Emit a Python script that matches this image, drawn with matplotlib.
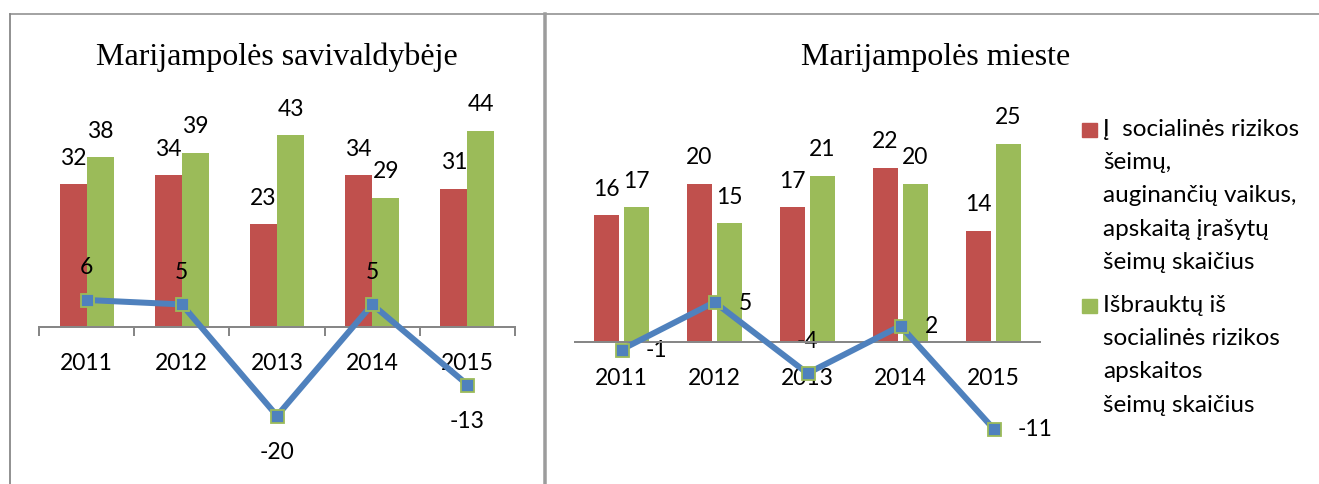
import matplotlib
matplotlib.use("Agg")

import matplotlib.pyplot as plt
import numpy as np
from matplotlib.lines import Line2D
from matplotlib.patches import Rectangle


years = ["2011", "2012", "2013", "2014", "2015"]

# Marijampolės savivaldybė
sav_irasyta = [32, 34, 23, 34, 31]
sav_isbraukta = [38, 39, 43, 29, 44]
sav_skirtumas = [6, 5, -20, 5, -13]

# Marijampolės miestas
miesto_irasyta = [16, 20, 17, 22, 14]
miesto_isbraukta = [17, 15, 21, 20, 25]
miesto_skirtumas = [-1, 5, -4, 2, -11]

titles = ["Marijampolės savivaldybėje", "Marijampolės mieste"]
legend_labels = [
    "Į  socialinės rizikos\nšeimų,\nauginančių vaikus,\napskaitą įrašytų\nšeimų skaičius",
    "Išbrauktų iš\nsocialinės rizikos\napskaitos\nšeimų skaičius",
]

RED = "#C0504D"
GREEN = "#9BBB59"
BLUE = "#4F81BD"
GREY = "#878787"
FONT = "Lato"
SERIF = "Liberation Serif"
FS = 16.5

W, H = 1319, 485
PX = 72 / 100  # points per pixel at dpi 100


def fx(px):
    return px / W


def fy(px):
    return 1 - px / H


def line_labels(ax, values, positions):
    offsets = {
        "above": ((0, 33 * PX), "center"),
        "below": ((0, -36 * PX), "center"),
        "right": ((24 * PX, 0), "left"),
    }
    for i, (v, pos) in enumerate(zip(values, positions)):
        xy, ha = offsets[pos]
        ax.annotate(str(v), (i, v), xytext=xy, textcoords="offset points",
                    ha=ha, va="center", fontsize=FS, family=FONT,
                    annotation_clip=False)


def draw_panel(ax, red, green, diff, width, offset, label_pos, ylim, boundary_ticks):
    x = np.arange(len(years))
    ax.bar(x - offset, red, width, color=RED, zorder=2)
    ax.bar(x + offset, green, width, color=GREEN, zorder=2)

    for xs, vals in ((x - offset, red), (x + offset, green)):
        for xi, v in zip(xs, vals):
            ax.annotate(str(v), (xi, v), xytext=(0, 27 * PX), textcoords="offset points",
                        ha="center", va="center", fontsize=FS, family=FONT)

    ax.plot(x, diff, color=BLUE, lw=6 * PX, marker="s", markersize=13 * PX,
            markerfacecolor=BLUE, markeredgecolor=GREEN, markeredgewidth=1.8 * PX,
            zorder=4, clip_on=False)
    line_labels(ax, diff, label_pos)

    ax.set_xlim(-0.5, len(years) - 0.5)
    ax.set_ylim(*ylim)
    for side in ("top", "right", "left"):
        ax.spines[side].set_visible(False)
    ax.spines["bottom"].set_position(("data", 0))
    ax.spines["bottom"].set_color(GREY)
    ax.spines["bottom"].set_linewidth(2 * PX)
    ax.spines["bottom"].set_zorder(3)
    ax.set_yticks([])
    ax.set_xticks(x, years)
    ax.tick_params(axis="x", which="major", length=0, pad=18.5, labelsize=FS)
    for t in ax.get_xticklabels():
        t.set_family(FONT)
    if boundary_ticks:
        ax.set_xticks(np.arange(-0.5, len(years)), minor=True)
        ax.tick_params(axis="x", which="minor", length=9 * PX, width=2 * PX,
                       color=GREY, direction="out")


fig = plt.figure(figsize=(W / 100, H / 100), dpi=100)

# left panel: x 39..515 px, zero at 327.7 px, 4.455 px per unit
ax1 = fig.add_axes([fx(39), fy(448), fx(476), 343.05 / H])
draw_panel(ax1, sav_irasyta, sav_isbraukta, sav_skirtumas, 0.284, 0.142,
           ["above", "above", "below", "above", "below"], (-27, 50), True)

# right panel: x 575..1040 px, zero at 342.7 px, 7.91 px per unit
ax2 = fig.add_axes([fx(575), fy(461.35), fx(465), 355.95 / H])
draw_panel(ax2, miesto_irasyta, miesto_isbraukta, miesto_skirtumas, 0.269, 0.161,
           ["right", "right", "above", "right", "right"], (-15, 30), False)

fig.text(fx(277), fy(65), titles[0], ha="center", va="baseline",
         fontsize=23, family=SERIF)
fig.text(fx(936), fy(65), titles[1], ha="center", va="baseline",
         fontsize=23, family=SERIF)

# legend
for label, color, top in zip(legend_labels, [RED, GREEN], [124, 300]):
    fig.add_artist(Rectangle((fx(1082), fy(top + 14)), fx(15), 14 / H,
                             transform=fig.transFigure, color=color))
    fig.text(fx(1103), fy(top - 5), label, ha="left", va="top",
             fontsize=17.5, family=FONT, linespacing=1.72)

# frame lines of the two charts
fig.add_artist(Line2D([fx(10), 1], [fy(15), fy(15)], color=GREY, lw=1.5 * PX))
fig.add_artist(Line2D([fx(10), fx(10)], [fy(15), 0], color=GREY, lw=1.8 * PX))
fig.add_artist(Line2D([fx(545), fx(545)], [fy(15), 0], color="#9c9c9c", lw=3.5 * PX))

fig.savefig("out.png", dpi=100)
